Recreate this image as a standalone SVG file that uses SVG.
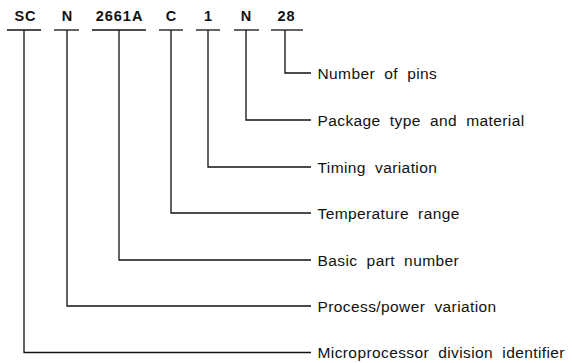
<svg xmlns="http://www.w3.org/2000/svg" width="572" height="363" viewBox="0 0 572 363">
<style>
.code{font-family:"Liberation Sans",Arial,sans-serif;font-weight:bold;font-size:14.5px;letter-spacing:1px;fill:#111;text-anchor:middle}
.desc{font-family:"Liberation Sans",Arial,sans-serif;font-size:15.5px;letter-spacing:0.4px;word-spacing:4.5px;fill:#111}
.ul{stroke:#111;stroke-width:1.3;fill:none}
.con{stroke:#111;stroke-width:1.3;fill:none}
</style>
<rect width="572" height="363" fill="#fff"/>
<g id="code-SC"><text class="code" x="25.5" y="21" letter-spacing="2.5">SC</text><line class="ul" x1="7" y1="30" x2="41" y2="30"/></g>
<g id="code-N1"><text class="code" x="67.5" y="21">N</text><line class="ul" x1="54" y1="30" x2="79" y2="30"/></g>
<g id="code-2661A"><text class="code" x="119.5" y="21">2661A</text><line class="ul" x1="92" y1="30" x2="146" y2="30"/></g>
<g id="code-C"><text class="code" x="171.5" y="21">C</text><line class="ul" x1="159" y1="30" x2="183" y2="30"/></g>
<g id="code-1"><text class="code" x="208.5" y="21">1</text><line class="ul" x1="196" y1="30" x2="220" y2="30"/></g>
<g id="code-N2"><text class="code" x="246.5" y="21">N</text><line class="ul" x1="234" y1="30" x2="259" y2="30"/></g>
<g id="code-28"><text class="code" x="286.5" y="21">28</text><line class="ul" x1="271" y1="30" x2="303" y2="30"/></g>

<g id="connectors">
<polyline class="con" points="285,30 285,73 311,73"/>
<polyline class="con" points="246,30 246,120 311,120"/>
<polyline class="con" points="208,30 208,167 311,167"/>
<polyline class="con" points="171,30 171,213 311,213"/>
<polyline class="con" points="119,30 119,260 311,260"/>
<polyline class="con" points="67,30 67,306 311,306"/>
<polyline class="con" points="24,30 24,352.5 311,352.5"/>
</g>

<g id="desc-pins"><text class="desc" x="317.5" y="78.5">Number of pins</text></g>
<g id="desc-package"><text class="desc" x="317.5" y="125.5">Package type and material</text></g>
<g id="desc-timing"><text class="desc" x="317.5" y="172.5">Timing variation</text></g>
<g id="desc-temp"><text class="desc" x="317.5" y="218.5">Temperature range</text></g>
<g id="desc-basic"><text class="desc" x="317.5" y="265.5">Basic part number</text></g>
<g id="desc-process"><text class="desc" x="317.5" y="311.5">Process/power variation</text></g>
<g id="desc-micro"><text class="desc" x="317.5" y="358">Microprocessor division identifier</text></g>
</svg>
